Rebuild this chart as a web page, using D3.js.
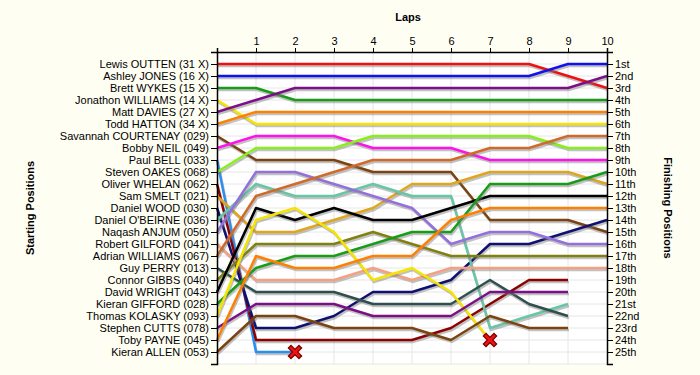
<!DOCTYPE html>
<html lang="en">
<head>
<meta charset="utf-8">
<title>Lap Chart</title>
<script src="https://cdnjs.cloudflare.com/ajax/libs/d3/7.8.5/d3.min.js"></script>
<style>
  body { margin: 0; background: #fefef3; }
  svg text { font-family: "Liberation Sans", Arial, sans-serif; }
  .axis path, .axis line { stroke: #000; }
  .axis text { font-size: 11px; fill: #000; }
</style>
</head>
<body>
<div id="chart"></div>
<script>
// drivers in starting order
const drivers = [
  "Lewis OUTTEN (31 X)", "Ashley JONES (16 X)", "Brett WYKES (15 X)", "Jonathon WILLIAMS (14 X)",
  "Matt DAVIES (27 X)", "Todd HATTON (34 X)", "Savannah COURTENAY (029)", "Bobby NEIL (049)",
  "Paul BELL (033)", "Steven OAKES (068)", "Oliver WHELAN (062)", "Sam SMELT (021)",
  "Daniel WOOD (030)", "Daniel O'BEIRNE (036)", "Naqash ANJUM (050)", "Robert GILFORD (041)",
  "Adrian WILLIAMS (067)", "Guy PERRY (013)", "Connor GIBBS (040)", "David WRIGHT (043)",
  "Kieran GIFFORD (028)", "Thomas KOLASKY (093)", "Stephen CUTTS (078)", "Toby PAYNE (045)",
  "Kieran ALLEN (053)"
];

const finishLabels = ["1st","2nd","3rd","4th","5th","6th","7th","8th","9th","10th","11th","12th","13th",
  "14th","15th","16th","17th","18th","19th","20th","21st","22nd","23rd","24th","25th"];

const lapNumbers = [1, 2, 3, 4, 5, 6, 7, 8, 9, 10];

// position after each lap (lap 1 .. last lap completed), same order as drivers
const lapPositions = [
  [1, 1, 1, 1, 1, 1, 1, 1, 2, 3],
  [2, 2, 2, 2, 2, 2, 2, 2, 1, 1],
  [3, 4, 4, 4, 4, 4, 4, 4, 4, 4],
  [6, 6, 6, 6, 6, 6, 6, 6, 6, 6],
  [4, 3, 3, 3, 3, 3, 3, 3, 3, 2],
  [5, 5, 5, 5, 5, 5, 5, 5, 5, 5],
  [9, 9, 9, 10, 10, 10, 14, 14, 14, 15],
  [7, 7, 7, 8, 8, 8, 9, 9, 9, 9],
  [25, 25],
  [8, 8, 8, 7, 7, 7, 7, 7, 8, 8],
  [24, 24, 24, 24, 24, 23, 21, 19, 19],
  [15, 15, 14, 13, 11, 11, 10, 10, 10, 11],
  [23, 23, 22, 20, 20, 19, 16, 16, 15, 14],
  [11, 12, 12, 11, 12, 12, 23, 22, 21],
  [10, 10, 11, 12, 13, 16, 15, 15, 16, 16],
  [19, 19, 19, 18, 19, 18, 18, 18, 18, 18],
  [12, 11, 10, 9, 9, 9, 8, 8, 7, 7],
  [20, 20, 20, 21, 21, 21, 19, 21, 22],
  [16, 16, 16, 15, 16, 17, 17, 17, 17, 17],
  [13, 14, 13, 14, 14, 13, 12, 12, 12, 12],
  [18, 17, 17, 16, 15, 15, 11, 11, 11, 10],
  [14, 13, 15, 19, 18, 20, 24],
  [21, 21, 21, 22, 22, 22, 20, 20, 20],
  [17, 18, 18, 17, 17, 14, 13, 13, 13, 13],
  [22, 22, 23, 23, 23, 24, 22, 23, 23]
];

// drivers whose line ends in a crash marker
const retired = ["Paul BELL (033)", "Thomas KOLASKY (093)"];

const colors = [
  "#ee1111", "#1111ee", "#169c16", "#f5e400", "#7d0f86", "#ff8000", "#7b4310", "#ff11ee",
  "#2b8ff0", "#86f01a", "#8b0000", "#e0a51e", "#101070", "#66c6a6", "#9370db", "#f5a080",
  "#d06a2a", "#2f4f4f", "#808010", "#000000", "#169c16", "#f5e400", "#7d0f86", "#ff8000",
  "#7b4310"
];

const w = 700, h = 375;
const plotLeft = 217, plotRight = 607, plotTop = 52, plotBottom = 364;

const svg = d3.select("#chart").append("svg")
  .attr("width", w).attr("height", h);

svg.append("rect").attr("width", w).attr("height", h).attr("fill", "#fefef3");

const x = d3.scaleLinear().domain([0, 10]).range([plotLeft, plotRight]);
const y = d3.scaleLinear().domain([0, 26]).range([plotTop, plotBottom]);

svg.append("rect")
  .attr("x", plotLeft).attr("y", plotTop)
  .attr("width", plotRight - plotLeft).attr("height", plotBottom - plotTop)
  .attr("fill", "#ffffff");

// grid
svg.append("g").selectAll("line")
  .data(d3.range(1, 27))
  .join("line")
  .attr("x1", plotLeft).attr("x2", plotRight)
  .attr("y1", d => y(d)).attr("y2", d => y(d))
  .attr("stroke", "#e6e6e6");

svg.append("g").selectAll("line")
  .data(lapNumbers.slice(0, -1))
  .join("line")
  .attr("x1", d => x(d)).attr("x2", d => x(d))
  .attr("y1", plotTop).attr("y2", plotBottom)
  .attr("stroke", "#e6e6e6");

// lines
const line = d3.line().x(d => x(d[0])).y(d => y(d[1]));

const series = drivers.map((name, i) => ({
  name: name,
  color: colors[i],
  pts: [[0, i + 1]].concat(lapPositions[i].map((p, j) => [lapNumbers[j], p]))
}));

const lines = svg.append("g");
series.forEach(s => {
  lines.append("path")
    .attr("d", line(s.pts))
    .attr("transform", "translate(1,2)")
    .attr("fill", "none")
    .attr("stroke", "#777")
    .attr("stroke-opacity", 0.45)
    .attr("stroke-width", 2.5);
  lines.append("path")
    .attr("d", line(s.pts))
    .attr("fill", "none")
    .attr("stroke", s.color)
    .attr("stroke-width", 2.5)
    .attr("stroke-linejoin", "round");
});

// crash markers
const crashes = series.filter(s => retired.includes(s.name)).map(s => s.pts[s.pts.length - 1]);
const marks = svg.append("g").selectAll("g")
  .data(crashes)
  .join("g")
  .attr("transform", d => `translate(${x(d[0])},${y(d[1])})`);
marks.append("path")
  .attr("d", "M-4,-4L4,4M4,-4L-4,4")
  .attr("stroke", "#700")
  .attr("stroke-width", 5)
  .attr("stroke-linecap", "square");
marks.append("path")
  .attr("d", "M-4,-4L4,4M4,-4L-4,4")
  .attr("stroke", "#f01010")
  .attr("stroke-width", 2.5)
  .attr("stroke-linecap", "square");

// axes
svg.append("g")
  .attr("class", "axis")
  .attr("transform", `translate(${plotLeft},0)`)
  .call(d3.axisLeft(y).tickValues(d3.range(0, 27)).tickSize(6).tickPadding(2)
    .tickFormat(d => drivers[d - 1] || ""));

svg.append("g")
  .attr("class", "axis")
  .attr("transform", `translate(${plotRight},0)`)
  .call(d3.axisRight(y).tickValues(d3.range(0, 27)).tickSize(6).tickPadding(2)
    .tickFormat(d => finishLabels[d - 1] || ""));

svg.append("g")
  .attr("class", "axis")
  .attr("transform", `translate(0,${plotTop})`)
  .call(d3.axisTop(x).tickValues([0].concat(lapNumbers)).tickSize(4).tickPadding(3)
    .tickFormat(d => d === 0 ? "" : d));

svg.selectAll(".axis .domain").attr("stroke-width", 1.5);

// titles
svg.append("text")
  .attr("x", (plotLeft + plotRight) / 2 - 4).attr("y", 21)
  .attr("text-anchor", "middle")
  .attr("font-size", 11).attr("font-weight", "bold")
  .text("Laps");

svg.append("text")
  .attr("transform", `translate(34,${(plotTop + plotBottom) / 2}) rotate(-90)`)
  .attr("text-anchor", "middle")
  .attr("font-size", 11).attr("font-weight", "bold")
  .text("Starting Positions");

svg.append("text")
  .attr("transform", `translate(664,${(plotTop + plotBottom) / 2}) rotate(90)`)
  .attr("text-anchor", "middle")
  .attr("font-size", 11).attr("font-weight", "bold")
  .text("Finishing Positions");
</script>
</body>
</html>
